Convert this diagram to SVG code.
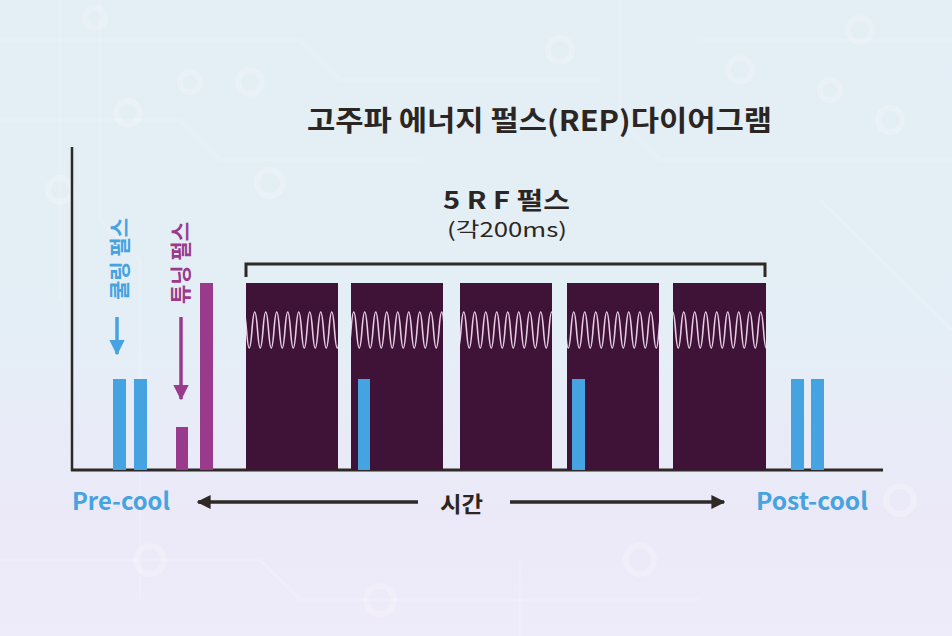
<svg xmlns="http://www.w3.org/2000/svg" width="952" height="636" viewBox="0 0 952 636">
<defs>
<linearGradient id="bg" x1="0" y1="0" x2="0" y2="1">
<stop offset="0" stop-color="#e3eef5"/>
<stop offset="0.55" stop-color="#e5eef6"/>
<stop offset="0.8" stop-color="#ebe9f8"/>
<stop offset="1" stop-color="#eeebfa"/>
</linearGradient>
<clipPath id="blocks">
<rect x="246" y="283" width="92" height="187"/>
<rect x="351" y="283" width="92" height="187"/>
<rect x="460" y="283" width="92" height="187"/>
<rect x="567" y="283" width="92" height="187"/>
<rect x="673" y="283" width="93" height="187"/>
</clipPath>
<marker id="ahDark" markerWidth="4" markerHeight="4" refX="3.6" refY="2" orient="auto" markerUnits="strokeWidth">
<path d="M0,0 L4,2 L0,4 Z" fill="#2e2826"/>
</marker>
<marker id="ahBlue" markerWidth="4.4" markerHeight="4.4" refX="4" refY="2.2" orient="auto" markerUnits="strokeWidth">
<path d="M0,0 L4.4,2.2 L0,4.4 Z" fill="#46a3e2"/>
</marker>
<marker id="ahMag" markerWidth="4.4" markerHeight="4.4" refX="4" refY="2.2" orient="auto" markerUnits="strokeWidth">
<path d="M0,0 L4.4,2.2 L0,4.4 Z" fill="#9a3a8c"/>
</marker>
</defs>
<style>
.kr{font-family:"Noto Sans CJK KR","Noto Sans",sans-serif;}
.dark{fill:#2b2523;}
.blue{fill:#46a3e2;}
.mag{fill:#9a3a8c;}
.rf{fill:#3f1238;}
.ring{fill:none;stroke:#ffffff;stroke-opacity:0.22;stroke-width:6;}
.trace{fill:none;stroke:#ffffff;stroke-opacity:0.16;stroke-width:3;}
</style>
<rect x="0" y="0" width="952" height="636" fill="url(#bg)"/>
<g id="background-pattern">
<path class="trace" d="M0 40 H300 L340 80 H600 M0 120 H180 L220 160 H420 M60 0 V300 M100 0 V220 L140 260 V600 M620 0 V120 L660 160 H952 M700 40 H952 M820 200 L952 330 M0 560 H260 L300 600 H700 M520 636 V560"/>
<circle class="ring" cx="95" cy="18" r="10"/>
<circle class="ring" cx="250" cy="82" r="12"/>
<circle class="ring" cx="128" cy="113" r="12"/>
<circle class="ring" cx="190" cy="82" r="10"/>
<circle class="ring" cx="60" cy="190" r="12"/>
<circle class="ring" cx="270" cy="183" r="13"/>
<circle class="ring" cx="560" cy="50" r="12"/>
<circle class="ring" cx="740" cy="70" r="12"/>
<circle class="ring" cx="860" cy="30" r="12"/>
<circle class="ring" cx="890" cy="120" r="12"/>
<circle class="ring" cx="830" cy="90" r="10"/>
<circle class="ring" cx="150" cy="560" r="14"/>
<circle class="ring" cx="380" cy="600" r="14"/>
<circle class="ring" cx="640" cy="560" r="14"/>
<circle class="ring" cx="900" cy="500" r="14"/>
</g>
<g id="title">
<text class="kr dark" x="307" y="131" font-size="28" font-weight="700" textLength="465" lengthAdjust="spacingAndGlyphs">고주파 에너지 펄스(REP)다이어그램</text>
</g>
<g id="axes">
<line x1="72" y1="147" x2="72" y2="471" stroke="#2e2826" stroke-width="2.5"/>
<line x1="71" y1="470" x2="883" y2="470" stroke="#2e2826" stroke-width="3"/>
</g>
<g id="cooling-label">
<text class="kr blue" transform="translate(118,259) rotate(-90)" text-anchor="middle" dominant-baseline="central" font-size="21" font-weight="700">쿨링 펄스</text>
</g>
<g id="tuning-label">
<text class="kr mag" transform="translate(179,263) rotate(-90)" text-anchor="middle" dominant-baseline="central" font-size="21" font-weight="700">튜닝 펄스</text>
</g>
<g id="pre-cool-pulses">
<rect class="blue" x="113" y="379" width="13" height="91"/>
<rect class="blue" x="134" y="379" width="13" height="91"/>
</g>
<g id="tuning-pulses">
<rect class="mag" x="176" y="427" width="12" height="43"/>
<rect class="mag" x="200" y="283" width="13" height="187"/>
</g>
<g id="rf-pulses">
<rect class="rf" x="246" y="283" width="92" height="187"/>
<rect class="rf" x="351" y="283" width="92" height="187"/>
<rect class="rf" x="460" y="283" width="92" height="187"/>
<rect class="rf" x="567" y="283" width="92" height="187"/>
<rect class="rf" x="673" y="283" width="93" height="187"/>
<path clip-path="url(#blocks)" fill="none" stroke="#e6cde2" stroke-width="1.6" d="M241 330 q2.75 -36 5.5 0 t5.5 0 t5.5 0 t5.5 0 t5.5 0 t5.5 0 t5.5 0 t5.5 0 t5.5 0 t5.5 0 t5.5 0 t5.5 0 t5.5 0 t5.5 0 t5.5 0 t5.5 0 t5.5 0 t5.5 0 t5.5 0 t5.5 0 t5.5 0 t5.5 0 t5.5 0 t5.5 0 t5.5 0 t5.5 0 t5.5 0 t5.5 0 t5.5 0 t5.5 0 t5.5 0 t5.5 0 t5.5 0 t5.5 0 t5.5 0 t5.5 0 t5.5 0 t5.5 0 t5.5 0 t5.5 0 t5.5 0 t5.5 0 t5.5 0 t5.5 0 t5.5 0 t5.5 0 t5.5 0 t5.5 0 t5.5 0 t5.5 0 t5.5 0 t5.5 0 t5.5 0 t5.5 0 t5.5 0 t5.5 0 t5.5 0 t5.5 0 t5.5 0 t5.5 0 t5.5 0 t5.5 0 t5.5 0 t5.5 0 t5.5 0 t5.5 0 t5.5 0 t5.5 0 t5.5 0 t5.5 0 t5.5 0 t5.5 0 t5.5 0 t5.5 0 t5.5 0 t5.5 0 t5.5 0 t5.5 0 t5.5 0 t5.5 0 t5.5 0 t5.5 0 t5.5 0 t5.5 0 t5.5 0 t5.5 0 t5.5 0 t5.5 0 t5.5 0 t5.5 0 t5.5 0 t5.5 0 t5.5 0 t5.5 0 t5.5 0 t5.5 0 t5.5 0 t5.5 0 t5.5 0 t5.5 0 t5.5 0 t5.5 0 t5.5 0 t5.5 0 t5.5 0"/>
</g>
<g id="inter-pulse-cooling">
<rect class="blue" x="358" y="379" width="12" height="91"/>
<rect class="blue" x="572" y="379" width="13" height="91"/>
</g>
<g id="post-cool-pulses">
<rect class="blue" x="791" y="379" width="13" height="91"/>
<rect class="blue" x="811" y="379" width="13" height="91"/>
</g>
<g id="rf-label">
<path d="M246 277 V264 H765 V277" fill="none" stroke="#2e2826" stroke-width="3"/>
<text class="kr dark" x="443" y="209" font-size="24" font-weight="700" textLength="127" lengthAdjust="spacingAndGlyphs">5 R F 펄스</text>
<text class="kr dark" x="447" y="237" font-size="20" textLength="120" lengthAdjust="spacingAndGlyphs">(각200ms)</text>
</g>
<g id="connectors">
<line x1="117" y1="317" x2="117" y2="354" stroke="#46a3e2" stroke-width="3.5" marker-end="url(#ahBlue)"/>
<line x1="181" y1="317" x2="181" y2="399" stroke="#9a3a8c" stroke-width="3.5" marker-end="url(#ahMag)"/>
<line x1="418" y1="502" x2="198" y2="502" stroke="#2e2826" stroke-width="3.5" marker-end="url(#ahDark)"/>
<line x1="510" y1="502" x2="724" y2="502" stroke="#2e2826" stroke-width="3.5" marker-end="url(#ahDark)"/>
</g>
<g id="time-axis-labels">
<text class="kr blue" x="72" y="510" font-size="24" font-weight="700" textLength="98" lengthAdjust="spacingAndGlyphs">Pre-cool</text>
<text class="kr dark" x="440" y="512" font-size="22" font-weight="700" textLength="43" lengthAdjust="spacingAndGlyphs">시간</text>
<text class="kr blue" x="756" y="510" font-size="24" font-weight="700" textLength="112" lengthAdjust="spacingAndGlyphs">Post-cool</text>
</g>
</svg>
